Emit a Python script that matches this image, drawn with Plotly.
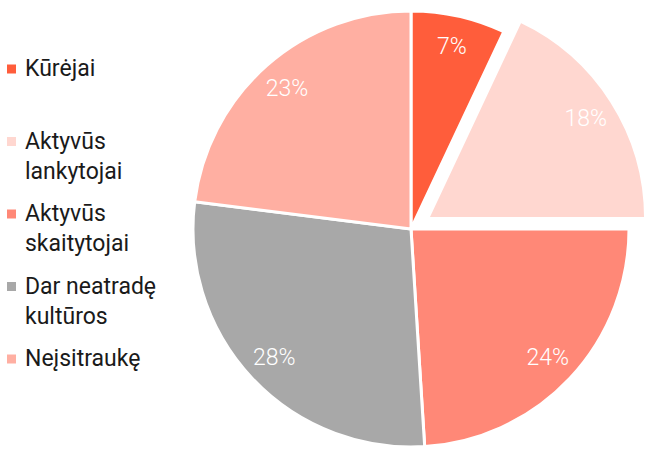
import math
import plotly.graph_objects as go

# Audience segments and their shares (%)
categories = ["Kūrėjai", "Aktyvūs lankytojai", "Aktyvūs skaitytojai",
              "Dar neatradę kultūros", "Neįsitraukę"]
legend_labels = ["Kūrėjai", "Aktyvūs<br>lankytojai", "Aktyvūs<br>skaitytojai",
                 "Dar neatradę<br>kultūros", "Neįsitraukę"]
shares = [7, 18, 24, 28, 23]
colors = ["#FF5D3B", "#FFD7D0", "#FF8877", "#A8A8A8", "#FFAFA2"]
pull = [0, 0.09, 0, 0, 0]

# Canvas and pie geometry (pixels)
W, H = 646, 452
CX, CY, R = 411, 229, 218
LABEL_R = 0.86               # radial position of the percentage labels
HOLE = 2 * LABEL_R - 1       # label ring whose inscribed circles sit at LABEL_R
BORDER = 3
CLEAR = "rgba(0,0,0,0)"
FONT = "Roboto"


def domain(cx, cy, r):
    return dict(x=[(cx - r) / W, (cx + r) / W],
                y=[1 - (cy + r) / H, 1 - (cy - r) / H])


def pie(cx, cy, fills, texts, hole=0.0, widths=None):
    return go.Pie(
        labels=categories, values=shares, sort=False, direction="clockwise",
        rotation=0, hole=hole, domain=domain(cx, cy, R),
        marker=dict(colors=fills,
                    line=dict(color="white", width=widths or [0] * len(shares))),
        text=texts, textinfo="text", textposition="inside",
        insidetextorientation="horizontal",
        textfont=dict(family=FONT, size=23, color="white", weight=300),
        hoverinfo="skip" if hole else "label+percent",
        showlegend=False,
    )


total = sum(shares)
fig = go.Figure()

# Slices that stay in place
fig.add_trace(pie(
    CX, CY,
    [c if p == 0 else CLEAR for c, p in zip(colors, pull)],
    [""] * len(shares),
    widths=[BORDER if p == 0 else 0 for p in pull],
))
fig.add_trace(pie(
    CX, CY, [CLEAR] * len(shares),
    [f"{v}%" if p == 0 else "" for v, p in zip(shares, pull)],
    hole=HOLE,
))

# Exploded slices, shifted outward along their mid angle
cum = 0
for i, (v, p) in enumerate(zip(shares, pull)):
    mid = math.radians((cum + v / 2) / total * 360)
    cum += v
    if p == 0:
        continue
    dx, dy = p * R * math.sin(mid), -p * R * math.cos(mid)
    only = [j == i for j in range(len(shares))]
    fig.add_trace(pie(
        CX + dx, CY + dy,
        [c if o else CLEAR for c, o in zip(colors, only)],
        [""] * len(shares),
        widths=[BORDER if o else 0 for o in only],
    ))
    fig.add_trace(pie(
        CX + dx, CY + dy, [CLEAR] * len(shares),
        [f"{s}%" if o else "" for s, o in zip(shares, only)],
        hole=HOLE,
    ))

# Legend on the left: colour square + label, first line beside the square
LEG_FS = 23
LEG_LH = 1.3 * LEG_FS
LEG_TOP, LEG_STEP = 69, 72.5
SQ = 9
shapes, annotations = [], []
for k, (lab, col) in enumerate(zip(legend_labels, colors)):
    yc = LEG_TOP + k * LEG_STEP
    shapes.append(dict(
        type="rect", xref="paper", yref="paper",
        x0=7 / W, x1=(7 + SQ) / W,
        y0=1 - (yc + SQ / 2) / H, y1=1 - (yc - SQ / 2) / H,
        fillcolor=col, line=dict(width=0),
    ))
    annotations.append(dict(
        xref="paper", yref="paper", x=24 / W, y=1 - (yc - LEG_LH / 2) / H,
        xanchor="left", yanchor="top", align="left", showarrow=False,
        borderpad=0, text=lab,
        font=dict(family=FONT, size=LEG_FS, color="#1a1a1a"),
    ))

fig.update_layout(
    width=W, height=H,
    margin=dict(l=0, r=0, t=0, b=0),
    paper_bgcolor="white", plot_bgcolor="white",
    shapes=shapes, annotations=annotations,
    showlegend=False,
)

fig.write_html("out.html")
